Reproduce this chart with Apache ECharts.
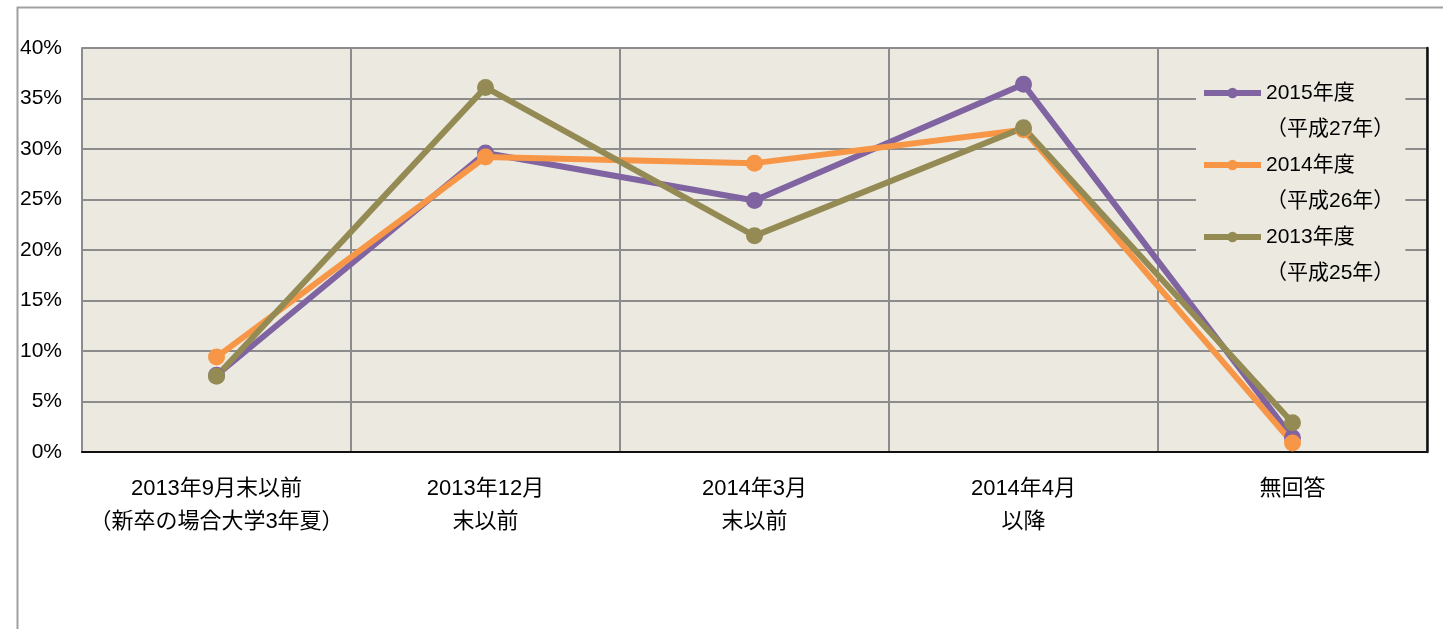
<!DOCTYPE html>
<html>
<head>
<meta charset="utf-8">
<script src="https://cdn.jsdelivr.net/npm/echarts@6/dist/echarts.min.js"></script>
<style>
  html, body { margin: 0; padding: 0; background: #fff; }
  #chart { width: 1443px; height: 629px; }
</style>
</head>
<body>
<div id="chart"></div>
<script>
// categories on the x axis
const categories = [
    "2013年9月末以前\n（新卒の場合大学3年夏）",
    "2013年12月\n末以前",
    "2014年3月\n末以前",
    "2014年4月\n以降",
    "無回答"
];

// series names (legend, two lines)
const seriesNames = ["2015年度\n（平成27年）", "2014年度\n（平成26年）", "2013年度\n（平成25年）"];

// values in percent
const values2015 = [7.6, 29.6, 24.9, 36.4, 1.4];
const values2014 = [9.4, 29.2, 28.6, 31.9, 0.9];
const values2013 = [7.5, 36.1, 21.4, 32.1, 2.9];

const colors = ["#8064A2", "#F79646", "#948A54"];

const fontFamily = "'Liberation Sans', 'Noto Sans CJK JP', sans-serif";
const plotBg = "#ECEAE0";
const gridGray = "#8C8C8C";

const chart = echarts.init(document.getElementById("chart"));

function lineSeries(name, data, color) {
    return {
        name: name,
        type: "line",
        data: data,
        symbol: "circle",
        symbolSize: 17,
        lineStyle: { color: color, width: 6 },
        itemStyle: { color: color },
        emphasis: { disabled: true },
        animation: false
    };
}

chart.setOption({
    backgroundColor: "#fff",
    textStyle: { fontFamily: fontFamily },
    graphic: [
        {
            type: "rect",
            left: 15,
            top: 5,
            z: -10,
            shape: { width: 1500, height: 700 },
            style: { fill: "none", stroke: "#A0A0A0", lineWidth: 2 }
        }
    ],
    grid: {
        left: 82,
        right: 16,
        top: 48,
        bottom: 177,
        show: true,
        backgroundColor: plotBg,
        borderWidth: 0
    },
    legend: {
        data: seriesNames,
        orient: "vertical",
        left: 1196,
        top: 59,
        // negative top padding keeps the box below the plot's top border
        padding: [-20, 11, 0, 5],
        itemGap: -36,
        itemWidth: 57,
        itemHeight: 13,
        backgroundColor: plotBg,
        lineStyle: { width: 6 },
        // leading blank line keeps the first line level with the icon
        formatter: (name) => "\n" + name,
        textStyle: {
            fontSize: 21,
            color: "#000",
            lineHeight: 36
        }
    },
    xAxis: [
        {
            type: "category",
            data: categories,
            boundaryGap: true,
            axisLine: { lineStyle: { color: gridGray, width: 2 } },
            axisTick: { show: false },
            axisLabel: {
                fontSize: 22,
                color: "#000",
                lineHeight: 33,
                margin: 20,
                interval: 0
            },
            splitLine: { show: true, lineStyle: { color: gridGray, width: 2 } }
        },
        {
            // black top border of the plot
            type: "category",
            data: categories,
            position: "top",
            axisLine: { lineStyle: { color: "#111", width: 2 } },
            axisTick: { show: false },
            axisLabel: { show: false },
            splitLine: { show: false }
        }
    ],
    yAxis: [
        {
            type: "value",
            min: 0,
            max: 40,
            interval: 5,
            axisLine: { show: true, lineStyle: { color: gridGray, width: 2 } },
            axisTick: { show: false },
            axisLabel: {
                formatter: "{value}%",
                fontSize: 21,
                color: "#000",
                margin: 20
            },
            splitLine: { show: true, lineStyle: { color: gridGray, width: 2 } }
        },
        {
            type: "value",
            min: 0,
            max: 40,
            interval: 5,
            position: "right",
            axisLine: { show: true, lineStyle: { color: "#111", width: 2.5 } },
            axisTick: { show: false },
            axisLabel: { show: false },
            splitLine: { show: false }
        }
    ],
    series: [
        lineSeries(seriesNames[0], values2015, colors[0]),
        lineSeries(seriesNames[1], values2014, colors[1]),
        lineSeries(seriesNames[2], values2013, colors[2])
    ]
});
</script>
</body>
</html>
